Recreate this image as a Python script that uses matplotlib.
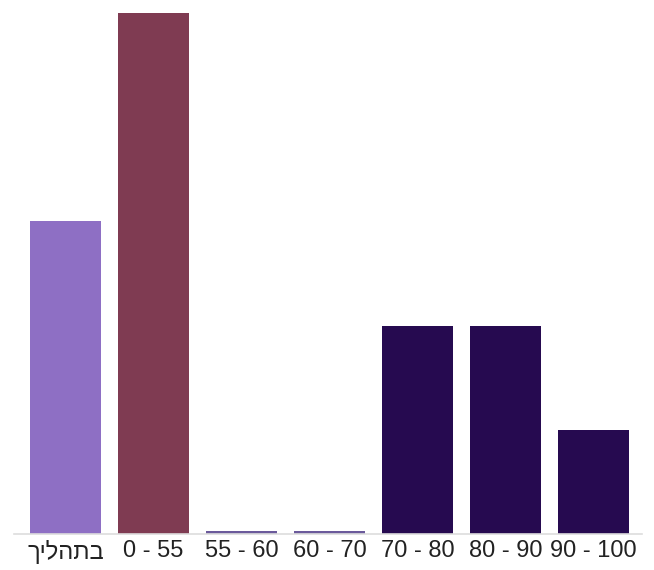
import matplotlib
matplotlib.use("Agg")
import matplotlib.pyplot as plt

categories = ["בתהליך", "0 - 55", "55 - 60", "60 - 70", "70 - 80", "80 - 90", "90 - 100"]
values = [3, 5, 0, 0, 2, 2, 1]
colors = ["#8E6FC4", "#7F3B52", "#6B5A9B", "#6B5A9B", "#260A50", "#260A50", "#260A50"]

def visual(s):
    # Hebrew is right-to-left; matplotlib draws left-to-right
    if any('\u0590' <= c <= '\u05FF' for c in s):
        return s[::-1]
    return s

plt.rcParams['font.family'] = ['Liberation Sans', 'DejaVu Sans']
fig = plt.figure(figsize=(6.54, 5.70), dpi=100)
ax = fig.add_axes([14/654, 1 - 534/570, (642-14)/654, (534-13)/570])

x = list(range(len(values)))
for xi, v, c in zip(x, values, colors):
    if v == 0:
        ax.bar(xi, 0.03, width=0.807, color=c, linewidth=0)
    else:
        ax.bar(xi, v, width=0.807, color=c, linewidth=0)

ax.set_xlim(-0.585, 6.55)
ax.set_ylim(0, 5)
for s in ["top", "right", "left"]:
    ax.spines[s].set_visible(False)
ax.spines["bottom"].set_color("#dddddd")
ax.spines["bottom"].set_linewidth(1.2)
ax.set_yticks([])
ax.set_xticks(x)
ax.set_xticklabels([visual(c) for c in categories], fontsize=17, color="#222222")
ax.tick_params(axis="x", length=0, pad=4)

fig.savefig("out.png", dpi=100)
